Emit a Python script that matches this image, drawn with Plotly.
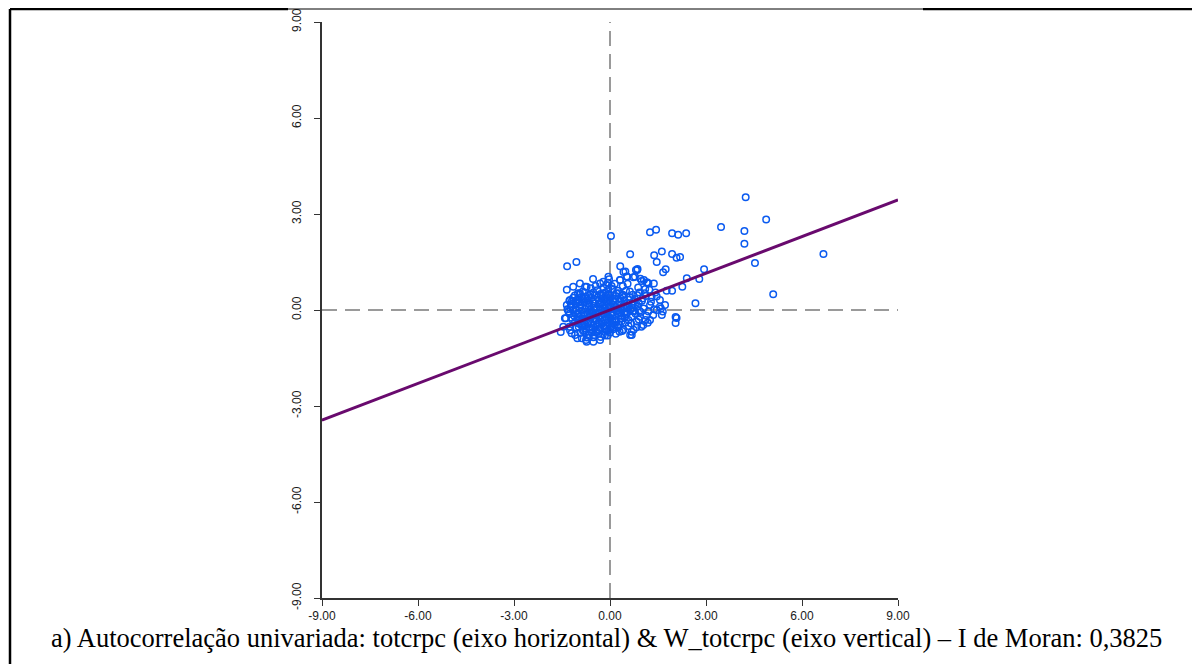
import plotly.graph_objects as go

# ---- data ----
moran_i = 0.3825
tick_vals = [-9, -6, -3, 0, 3, 6, 9]
tick_text = ["-9.00", "-6.00", "-3.00", "0.00", "3.00", "6.00", "9.00"]

outlier_x = [4.24, 4.88, 3.47, 4.20, 4.20, 6.67, 4.53, 5.10,
             1.25, 1.44, 1.94, 2.13, 2.38, 1.62, 1.38, 1.46, 1.94, 2.08, 2.19,
             1.74, 1.66, 2.94, 2.40, 2.79, 2.26, 1.77, 1.94, 2.67, 2.05, 2.05,
             0.03, -1.34, -1.05, 0.63, 0.32, 0.81, 0.86, 0.48, 0.54, -0.53,
             -0.05, -0.03, -0.07, 0.32, 0.95, 1.06, 1.20, 0.73, 1.15, 1.37, 2.08]
outlier_y = [3.52, 2.83, 2.59, 2.47, 2.07, 1.75, 1.47, 0.49,
             2.43, 2.51, 2.40, 2.35, 2.40, 1.83, 1.71, 1.50, 1.75, 1.63, 1.66,
             1.27, 1.18, 1.27, 0.99, 0.97, 0.73, 0.60, 0.60, 0.21, -0.22, -0.41,
             2.31, 1.37, 1.50, 1.74, 1.37, 1.25, 1.28, 1.20, 1.04, 0.97,
             1.04, 0.96, 0.85, 0.94, 0.98, 0.94, 0.83, 1.02, 0.86, 0.83, -0.25]

edge_x = [-0.78, -0.94, -0.98, -1.27, -1.19, -1.33, -1.38, -1.54,
          -1.27, -1.20, -1.02, -0.75, -0.52, -0.16, -0.05,
          0.38, 0.68, 0.83, 1.11, 1.35, 1.59, 1.56, 1.72, 1.65, 1.46,
          0.42, 0.52, 0.31, 0.78, 0.85, 0.99, 1.17,
          1.23, 1.46, 1.25, 1.56, 1.62, 1.20, 0.94, 1.25, 1.04, 0.68, 0.63, 0.42, 0.83,
          -1.25, -1.35, -1.41, -1.46, -1.25, -1.09, -0.88, -0.73, -0.52, -0.31,
          -1.35, -1.15, -0.94, -0.73, -0.31, -0.21,
          -0.10, 0.05, -0.20, 0.15, 0.40, 0.55, -0.45, -0.60]
edge_y = [0.73, 0.52, 0.31, 0.29, 0.28, 0.02, -0.26, -0.69,
          -0.52, -0.73, -0.88, -0.94, -0.85, -0.80, -0.65,
          -0.66, -0.78, -0.54, -0.31, -0.16, 0.05, 0.31, 0.16, -0.05, 0.00,
          1.19, 1.05, 0.94, 1.04, 1.25, 0.91, 0.86,
          0.63, 0.42, 0.16, 0.10, -0.16, -0.05, -0.21, -0.31, -0.47, -0.68, -0.78, -0.62, -0.36,
          0.31, 0.16, -0.26, -0.52, -0.63, -0.78, -0.88, -0.99, -0.99, -0.94,
          0.63, 0.73, 0.83, 0.73, 0.83, 0.88,
          0.78, 0.75, 0.70, 0.82, 0.75, 0.82, 0.75, 0.68]

core_x = [-1.10, -0.85, -0.62, -0.40, -0.15, 0.08, 0.28, 0.50, 0.71, 0.92,
          -1.22, -1.02, -0.80, -0.58, -0.35, -0.12, 0.10, 0.33, 0.55, 0.78, 1.00, 1.12,
          -1.30, -1.08, -0.88, -0.66, -0.44, -0.22, 0.02, 0.20, 0.42, 0.64, 0.86, 1.05,
          -1.18, -0.96, -0.74, -0.52, -0.30, -0.08, 0.14, 0.36, 0.58, 0.80,
          -1.05, -0.84, -0.62, -0.40, -0.18, 0.04, 0.26, 0.48,
          -0.92, -0.66, -0.44, -0.22, 0.00, 0.18,
          -1.00, -0.76, -0.52, -0.28, -0.05, 0.18, 0.40, 0.62,
          -1.14, -0.92, -0.70, -0.48, -0.25, -0.02, 0.22, 0.45, 0.68, 0.90,
          -1.24, -1.00, -0.78, -0.55, -0.33, -0.10, 0.12, 0.32, 0.54, 0.75, 0.96,
          -1.12, -0.88, -0.64, -0.42, -0.20, 0.02, 0.25, 0.46, 0.68,
          -0.98, -0.75, -0.52, -0.30, -0.08, 0.15, 0.36, 0.58,
          -0.82, -0.56, -0.34, -0.10, 0.10, 0.30,
          -0.90, -0.65, -0.38, -0.18, 0.00, 0.25, -0.60, -0.45, -0.25, -0.05,
          0.15, -0.70, -0.35, -0.15, -0.80, -0.50, -0.30, -0.05, 0.05, -1.05]
core_y = [0.45, 0.58, 0.50, 0.62, 0.55, 0.66, 0.52, 0.60, 0.48, 0.55,
          0.18, 0.33, 0.24, 0.38, 0.30, 0.41, 0.27, 0.36, 0.22, 0.34, 0.29, 0.44,
          -0.05, 0.06, -0.02, 0.11, 0.04, 0.14, 0.08, -0.03, 0.12, 0.02, 0.10, 0.05,
          -0.30, -0.22, -0.33, -0.18, -0.27, -0.15, -0.28, -0.19, -0.31, -0.12,
          -0.55, -0.48, -0.60, -0.45, -0.58, -0.42, -0.55, -0.40,
          -0.72, -0.80, -0.70, -0.76, -0.70, -0.74,
          0.52, 0.42, 0.55, 0.46, 0.50, 0.44, 0.48, 0.40,
          0.28, 0.15, 0.30, 0.20, 0.24, 0.30, 0.18, 0.30, 0.16, 0.22,
          0.08, -0.10, 0.04, -0.06, 0.10, -0.02, 0.02, -0.08, 0.06, -0.04, -0.06,
          -0.18, -0.35, -0.22, -0.32, -0.12, -0.25, -0.12, -0.24, -0.20,
          -0.42, -0.58, -0.48, -0.55, -0.40, -0.48, -0.35, -0.50,
          -0.64, -0.70, -0.62, -0.66, -0.60, -0.68,
          0.40, 0.20, 0.40, 0.32, 0.40, 0.60, -0.40, -0.10, 0.00, 0.15,
          0.12, -0.12, -0.40, -0.30, -0.45, 0.00, 0.50, 0.65, -0.10, 0.20]

dense_x = [-1.15, -0.95, -0.72, -0.48, -0.26, -0.04, 0.16, 0.38, 0.60,
           -1.20, -0.98, -0.76, -0.54, -0.32, -0.11, 0.09, 0.30, 0.51, 0.72,
           -1.26, -1.04, -0.82, -0.60, -0.38, -0.16, 0.06, 0.27, 0.48, 0.70, 0.92,
           -1.20, -0.99, -0.78, -0.57, -0.36, -0.14, 0.08, 0.29, 0.50, 0.71,
           -1.10, -0.90, -0.69, -0.48, -0.27, -0.06, 0.16, 0.37,
           -0.98, -0.78, -0.56, -0.35, -0.14, 0.07, 0.27,
           -0.85, -0.63, -0.42, -0.20, 0.01, 0.22,
           -0.72, -0.50, -0.29, -0.07]
dense_y = [0.38, 0.48, 0.35, 0.47, 0.36, 0.47, 0.36, 0.45, 0.32,
           0.12, 0.23, 0.14, 0.26, 0.18, 0.27, 0.17, 0.25, 0.14, 0.26,
           -0.12, -0.01, -0.10, 0.02, -0.09, 0.04, -0.07, 0.05, -0.05, 0.07, -0.02,
           -0.24, -0.14, -0.26, -0.12, -0.21, -0.08, -0.18, -0.06, -0.15, -0.04,
           -0.38, -0.30, -0.40, -0.26, -0.36, -0.22, -0.34, -0.26,
           -0.52, -0.42, -0.54, -0.40, -0.50, -0.34, -0.45,
           -0.64, -0.55, -0.66, -0.50, -0.58, -0.50,
           -0.86, -0.78, -0.84, -0.80]

fill_x = [-1.06, -0.86, -0.66, -0.46, -0.22, 0.00, 0.20, 0.42,
          -1.16, -0.94, -0.71, -0.50, -0.29, -0.07, 0.13, 0.35, 0.56,
          -1.02, -0.82, -0.61, -0.41, -0.19, 0.03, 0.23, 0.44,
          -0.90, -0.69, -0.47, -0.24, -0.03, 0.19,
          -0.77, -0.55, -0.36, -0.13, 0.07]
fill_y = [0.30, 0.36, 0.44, 0.32, 0.46, 0.34, 0.52, 0.40,
          0.00, 0.07, 0.20, 0.08, 0.22, 0.22, 0.30, 0.18, 0.10,
          -0.25, -0.18, -0.04, -0.16, -0.02, -0.12, 0.00, -0.10,
          -0.48, -0.36, -0.30, -0.42, -0.30, -0.38,
          -0.70, -0.62, -0.74, -0.58, -0.50]

right_x = [0.62, 0.85, 1.08, 1.30, 0.55, 0.78, 1.02, 1.28, 1.42,
           0.66, 0.90, 1.14, 1.38, 0.74, 0.98, 1.18, 0.88, 1.10]
right_y = [0.58, 0.46, 0.52, 0.40, -0.08, 0.18, 0.36, 0.26, 0.55,
           -0.42, -0.30, -0.18, 0.02, -0.62, -0.52, -0.40, 0.70, 0.66]

pts_x = outlier_x + edge_x + core_x + dense_x + fill_x + right_x
pts_y = outlier_y + edge_y + core_y + dense_y + fill_y + right_y

line_x = [-9, 9]
line_y = [moran_i * v for v in line_x]

caption = ("a) Autocorrelação univariada: totcrpc (eixo horizontal) & "
           "W_totcrpc (eixo vertical) – I de Moran: 0,3825")

# ---- layout geometry (figure pixels; page body adds an 8px offset) ----
OFF = 8
W, H = 1192, 656
L, T = 322 - OFF, 22 - OFF
pw, ph = 576, 576
R, B = W - L - pw, H - T - ph


def px(x_page):
    return (x_page - OFF - L) / pw


def py(y_page):
    return (H - B - (y_page - OFF)) / ph


fig = go.Figure()

# dashed quadrant lines
fig.add_trace(go.Scatter(x=[-9, 9], y=[0, 0], mode="lines",
                         line=dict(color="#9a9a9a", width=2, dash="15px,8px"),
                         hoverinfo="skip", showlegend=False))
fig.add_trace(go.Scatter(x=[0, 0], y=[-9, 9], mode="lines",
                         line=dict(color="#9a9a9a", width=2, dash="15px,8px"),
                         hoverinfo="skip", showlegend=False))

fig.add_trace(go.Scatter(x=pts_x, y=pts_y, mode="markers",
                         marker=dict(symbol="circle-open", size=6.5,
                                     color="#0a5af0", line=dict(width=1.5, color="#0a5af0")),
                         showlegend=False))

fig.add_trace(go.Scatter(x=line_x, y=line_y, mode="lines",
                         line=dict(color="#690a6e", width=3),
                         showlegend=False))

axis_common = dict(range=[-9, 9], tickvals=tick_vals, ticktext=tick_text,
                   showgrid=False, zeroline=False, showline=True,
                   linecolor="#333333", linewidth=1.5, ticks="outside",
                   ticklen=6, tickwidth=1.3, tickcolor="#333333",
                   tickfont=dict(family="Liberation Sans, Arial", size=12, color="#1a1a1a"),
                   mirror=False, fixedrange=True, automargin=False)

fig.update_layout(
    width=W, height=H,
    margin=dict(l=L, r=R, t=T, b=B, autoexpand=False),
    plot_bgcolor="white", paper_bgcolor="white",
    xaxis=dict(**axis_common),
    yaxis=dict(**axis_common, tickangle=-90, ticklabelstandoff=8),
    showlegend=False,
)

# page frame lines (page pixel coordinates)
frame = [
    (10, 9, 10, 664, 2.5),
    (10, 9, 288, 9, 2.5),
    (288, 9, 923, 9, 1),
    (923, 9, 1200, 9, 2.5),
]
for x0, y0, x1, y1, w in frame:
    fig.add_shape(type="line", xref="paper", yref="paper",
                  x0=px(x0), y0=py(y0), x1=px(x1), y1=py(y1),
                  line=dict(color="black", width=w))

fig.add_annotation(text=caption, xref="paper", yref="paper",
                   x=px(606), y=py(638), xanchor="center", yanchor="middle",
                   showarrow=False,
                   font=dict(family="Liberation Serif, Times New Roman", size=26.5, color="black"))

fig.write_html("out.html")
